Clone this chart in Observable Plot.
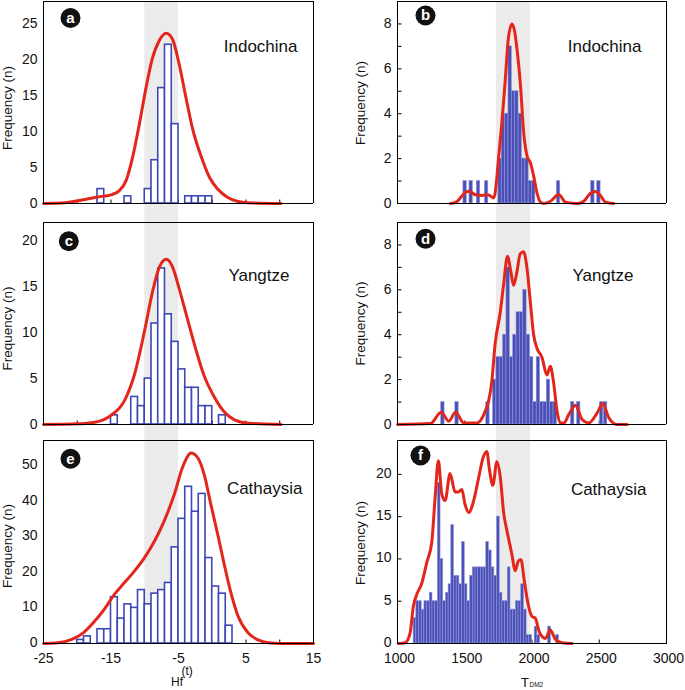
<!DOCTYPE html>
<html><head><meta charset="utf-8">
<script src="https://cdn.jsdelivr.net/npm/d3@7"></script>
<script src="https://cdn.jsdelivr.net/npm/@observablehq/plot@0.6"></script>
<style>
body{margin:0;background:#fff;}
#fig{position:relative;width:685px;height:690px;font-family:Arial,"Liberation Sans",Helvetica,sans-serif;color:#111;overflow:hidden;}
#fig svg{position:absolute;}
.xt{position:absolute;line-height:1;white-space:nowrap;}
</style></head><body><div id="fig"></div>
<script>
// ---------------- data ----------------
const hfBand = [-10, -5];
const tdmBand = [1735, 1990];
const hfDomain = [-25, 15];
const tdmDomain = [1000, 3000];
const hfTickLabels = [-25, -15, -5, 5, 15];
const hfMinorTicks = [-20, -15, -10, -5, 0, 5, 10];
const tdmTickLabels = [1000, 1500, 2000, 2500, 3000];
const tdmMinorTicks = [1500, 2000, 2500];
const letters = ["a", "b", "c", "d", "e", "f"];
const regions = ["Indochina", "Indochina", "Yangtze", "Yangtze", "Cathaysia", "Cathaysia"];

// (a) Indochina Hf(t)
const aBinStart = [-17, -13, -10, -9, -8, -7, -6, -4, -3, -2, -1];
const aBinCount = [2, 1, 2, 6, 16, 22, 11, 1, 1, 1, 1];
const aCurveX = [-25, -21.9, -19.9, -17, -15, -13.8, -12.8, -11.8, -10.8, -9.8, -8.9, -7.9, -6.8, -5.9, -4.9, -3.9, -2.9, -1.6, -0.4, 0.8, 2.3, 3.8, 5.3, 10.2];
const aCurveY = [0, 0.1, 0.37, 0.9, 1.2, 1.75, 3.1, 6.4, 11.0, 16.1, 20.0, 22.5, 23.6, 22.8, 19.3, 14.7, 10.3, 6.4, 3.6, 2.0, 0.83, 0.28, 0.1, 0];
const aYLabels = [0, 5, 10, 15, 20, 25];

// (b) Indochina TDM2
const bBinStart = [1490, 1535, 1590, 1650, 1750, 1775, 1800, 1825, 1850, 1875, 1900, 1925, 1950, 1975, 2000, 2185, 2440, 2485];
const bBinCount = [1, 1, 1, 1, 2, 4, 4, 7, 5, 5, 4, 2, 2, 1, 1, 1, 1, 1];
const bCurveX = [1394, 1440, 1506, 1530, 1580, 1630, 1667, 1700, 1716, 1741, 1751, 1776, 1801, 1825, 1851, 1870, 1890, 1914, 1939, 1964, 1989, 2013, 2039, 2063, 2088, 2138, 2199, 2249, 2336, 2385, 2435, 2472, 2509, 2546, 2608];
const bCurveY = [0, 0.08, 0.5, 0.55, 0.39, 0.36, 0.39, 0.3, 0.25, 1.3, 2.0, 3.6, 5.5, 7.4, 8.0, 7.7, 6.8, 5.3, 3.1, 2.1, 1.8, 1.2, 0.43, 0.06, 0, 0.1, 0.4, 0.06, 0, 0.1, 0.46, 0.54, 0.36, 0.06, 0];
const bYLabels = [0, 2, 4, 6, 8];
const bYMinor = [1, 2, 3, 4, 5, 6, 7, 8];

// (c) Yangtze Hf(t)
const cBinStart = [-15, -12, -11, -10, -9, -8, -7, -6, -5, -4, -3, -2, -1, 1];
const cBinCount = [1, 3, 2, 5, 11, 17, 12, 9, 6, 4, 4, 2, 2, 1];
const cCurveX = [-25, -19.9, -17.4, -15, -13, -11.5, -10, -8.8, -7.8, -6.8, -5.9, -4.9, -3.6, -2.4, -1.2, 0.3, 1.8, 3.3, 5.3, 10.2];
const cCurveY = [0, 0.07, 0.25, 1.0, 2.6, 5.5, 10.3, 14.6, 17.2, 18.0, 17.2, 14.8, 11.3, 8.1, 5.3, 3.0, 1.35, 0.5, 0.15, 0];
const cYLabels = [0, 5, 10, 15, 20];

// (d) Yangtze TDM2
const dBinStart = [1325, 1430, 1660, 1710, 1735, 1760, 1785, 1810, 1835, 1860, 1885, 1910, 1935, 1960, 1985, 2010, 2035, 2060, 2085, 2110, 2135, 2160, 2290, 2335, 2505, 2535];
const dBinCount = [1, 1, 1, 2, 3, 3, 4, 7, 3, 4, 5, 5, 6, 4, 3, 1, 3, 1, 1, 2, 1, 1, 1, 1, 1, 1];
const dCurveX = [1000, 1245, 1325, 1382, 1431, 1493, 1592, 1630, 1652, 1677, 1701, 1726, 1764, 1788, 1818, 1843, 1863, 1888, 1912, 1937, 1962, 1987, 2012, 2037, 2074, 2111, 2136, 2160, 2186, 2210, 2237, 2274, 2323, 2373, 2422, 2485, 2526, 2571, 2633, 2708];
const dCurveY = [0, 0.04, 0.55, 0.15, 0.55, 0.07, 0.07, 0.3, 0.6, 1.04, 1.9, 3.6, 5.0, 6.2, 7.5, 6.8, 6.2, 6.8, 7.6, 7.7, 7.0, 5.5, 4.0, 3.4, 3.0, 2.2, 2.6, 1.9, 0.6, 0.07, 0.07, 0.45, 0.86, 0.22, 0.07, 0.52, 0.92, 0.3, 0, 0];
const dYLabels = [0, 2, 4, 6, 8];
const dYMinor = [1, 2, 3, 4, 5, 6, 7, 8];

// (e) Cathaysia Hf(t)
const eBinStart = [-20, -19, -17, -16, -15, -14, -13, -12, -11, -10, -9, -8, -7, -6, -5, -4, -3, -2, -1, 0, 1, 2];
const eBinCount = [1, 2, 4, 4, 13, 7, 11, 10, 15, 11, 14, 15, 17, 27, 35, 44, 37, 42, 24, 16, 14, 5];
const eCurveX = [-25, -22.9, -20.9, -19.1, -17.4, -16, -14.5, -13, -11.5, -10, -8.5, -7.1, -5.6, -4.4, -3.1, -2.1, -1.2, -0.2, 0.8, 1.8, 2.8, 3.8, 5.3, 6.8, 8.3, 10.2, 15];
const eCurveY = [0, 0.2, 1.1, 3.0, 6.3, 9.6, 13.8, 17.1, 20.4, 24.2, 28.9, 34.5, 42.0, 49.5, 53.5, 52.0, 47.5, 39.0, 30.7, 22.0, 14.0, 7.8, 3.0, 1.0, 0.2, 0, 0];
const eYLabels = [0, 10, 20, 30, 40, 50];

// (f) Cathaysia TDM2
const fBinStart = [1120, 1140, 1160, 1180, 1200, 1220, 1240, 1260, 1280, 1300, 1320, 1340, 1360, 1380, 1400, 1420, 1440, 1460, 1480, 1500, 1520, 1540, 1560, 1580, 1600, 1620, 1640, 1660, 1680, 1700, 1720, 1740, 1760, 1780, 1800, 1820, 1840, 1860, 1880, 1900, 1920, 1940, 1960, 1980, 2020, 2040, 2120, 2180];
const fBinCount = [3, 5, 5, 4, 5, 5, 6, 5, 5, 19, 10, 5, 6, 7, 14, 8, 8, 7, 12, 7, 5, 8, 9, 9, 9, 9, 9, 12, 11, 9, 8, 15, 6, 5, 5, 9, 4, 4, 5, 5, 7, 4, 1, 1, 2, 1, 2, 1];
const fCurveX = [1006, 1056, 1093, 1118, 1143, 1180, 1218, 1255, 1279, 1304, 1329, 1354, 1391, 1428, 1453, 1478, 1503, 1530, 1565, 1602, 1639, 1664, 1684, 1709, 1739, 1764, 1789, 1818, 1851, 1875, 1900, 1918, 1942, 1967, 2000, 2024, 2056, 2099, 2136, 2173, 2223, 2298];
const fCurveY = [0, 0.08, 1.2, 4.4, 5.8, 7.1, 9.6, 12.0, 17.1, 21.6, 17.7, 16.9, 20.1, 17.9, 17.9, 18.2, 16.4, 15.5, 16.8, 19.5, 22.1, 22.7, 20.5, 18.7, 21.5, 19.7, 15.5, 13.0, 10.5, 8.6, 9.8, 9.9, 7.5, 5.0, 3.2, 3.0, 1.3, 0.6, 1.6, 0.5, 0.08, 0];
const fYLabels = [0, 5, 10, 15, 20];
const fYMinor = [5, 10, 15, 20];

// ---------------- layout ----------------
const FONT = "Arial, 'Liberation Sans', Helvetica, sans-serif";
const RED = "#e3261c";
const OUTLINE = "#3d47b5";
const cols = {
  left: {left: 0, width: 330, ml: 43, mr: 17, xdx: 0},
  right: {left: 350, width: 335, ml: 47, mr: 19, xdx: 2}
};
const rows = [
  {top: 0, height: 222, mt: 1, mb: 0, zero: 203, ydy: 0},
  {top: 221, height: 219, mt: 1, mb: 0, zero: 203, ydy: 0},
  {top: 439, height: 251, mt: 1, mb: 47, zero: 204, ydy: -1}
];
const tickUp = {draw(ctx) { ctx.moveTo(0, 0); ctx.lineTo(0, -4); }};
const tickRight = {draw(ctx) { ctx.moveTo(0, 0); ctx.lineTo(4, 0); }};

const panels = [
  {col: "left", row: 0, xDomain: hfDomain, band: hfBand, yTop: 28, binStart: aBinStart, binCount: aBinCount, binWidth: 1, curveX: aCurveX, curveY: aCurveY, yLabels: aYLabels, yMinor: null, xMinor: hfMinorTicks, xLabels: hfTickLabels, filled: false, badge: [27, 16.5], nameOff: [-16, 45], ylab: [-36, -4]},
  {col: "right", row: 0, xDomain: tdmDomain, band: tdmBand, yTop: 9, binStart: bBinStart, binCount: bBinCount, binWidth: 25, curveX: bCurveX, curveY: bCurveY, yLabels: bYLabels, yMinor: bYMinor, xMinor: tdmMinorTicks, xLabels: tdmTickLabels, filled: true, badge: [28, 14], nameOff: [-25, 45.5], ylab: [-37, -9]},
  {col: "left", row: 1, xDomain: hfDomain, band: hfBand, yTop: 22, binStart: cBinStart, binCount: cBinCount, binWidth: 1, curveX: cCurveX, curveY: cCurveY, yLabels: cYLabels, yMinor: null, xMinor: hfMinorTicks, xLabels: hfTickLabels, filled: false, badge: [25.3, 18.7], nameOff: [-24, 53.4], ylab: [-36, -3]},
  {col: "right", row: 1, xDomain: tdmDomain, band: tdmBand, yTop: 9, binStart: dBinStart, binCount: dBinCount, binWidth: 25, curveX: dCurveX, curveY: dCurveY, yLabels: dYLabels, yMinor: dYMinor, xMinor: tdmMinorTicks, xLabels: tdmTickLabels, filled: true, badge: [28, 16.3], nameOff: [-33, 53.5], ylab: [-37, -8]},
  {col: "left", row: 2, xDomain: hfDomain, band: hfBand, yTop: 57, binStart: eBinStart, binCount: eBinCount, binWidth: 1, curveX: eCurveX, curveY: eCurveY, yLabels: eYLabels, yMinor: null, xMinor: hfMinorTicks, xLabels: hfTickLabels, filled: false, badge: [27, 18.3], nameOff: [-11, 48.3], ylab: [-36, 4]},
  {col: "right", row: 2, xDomain: tdmDomain, band: tdmBand, yTop: 24, binStart: fBinStart, binCount: fBinCount, binWidth: 20, curveX: fCurveX, curveY: fCurveY, yLabels: fYLabels, yMinor: fYMinor, xMinor: tdmMinorTicks, xLabels: tdmTickLabels, filled: true, badge: [23, 15], nameOff: [-20, 49], ylab: [-37, 1]}
];

const fig = document.getElementById("fig");

panels.forEach((p, idx) => {
  const c = cols[p.col], r = rows[p.row];
  const k = (r.zero - r.mt) / p.yTop;
  const yMin = -(r.height - r.mb - r.zero) / k;
  const bottom = p.row === 2;
  const bars = p.binStart.map((s, i) => ({x1: s, x2: s + p.binWidth, y: p.binCount[i]})).filter(d => d.y > 0);
  const curve = p.curveX.map((x, i) => ({x, y: p.curveY[i]}));
  const marks = [
    Plot.rect([p.band], {x1: d => d[0], x2: d => d[1], fill: "#ebebeb"}),
    Plot.dot(p.xMinor, {x: d => d, y: () => 0, symbol: tickUp, r: 3, fill: "none", stroke: "#000", strokeWidth: 1}),
    p.yMinor ? Plot.dot(p.yMinor, {x: null, y: d => d, frameAnchor: "left", symbol: tickRight, r: 3, fill: "none", stroke: "#000", strokeWidth: 1}) : null,
    Plot.rect(bars, {x1: "x1", x2: "x2", y1: 0, y2: "y",
      fill: p.filled ? "#4b50b6" : "#ffffff",
      stroke: p.filled ? "#8f93da" : OUTLINE,
      strokeWidth: p.filled ? 0.6 : 1.6}),
    Plot.line(curve, {x: "x", y: "y", stroke: RED, strokeWidth: 3, curve: "monotone-x", strokeLinejoin: "round"}),
    ...(bottom
      ? [Plot.frame({stroke: "#000", strokeWidth: 1})]
      : [Plot.ruleY([0, p.yTop], {stroke: "#000", strokeWidth: 1}),
         Plot.ruleX([p.xDomain[0], p.xDomain[1]], {y1: 0, y2: p.yTop, stroke: "#000", strokeWidth: 1})]),
    Plot.axisY(p.yLabels, {anchor: "left", tickSize: 0, tickPadding: 6, dy: r.ydy, fontSize: 14, label: null, tickFormat: d => String(d)}),
    bottom ? Plot.axisX(p.xLabels, {anchor: "bottom", tickSize: 0, tickPadding: 10, dx: c.xdx, fontSize: 14, label: null, tickFormat: d => String(d)}) : null,
    Plot.text(["Frequency (n)"], {x: null, y: null, text: d => d, frameAnchor: "left", dx: p.ylab[0], dy: p.ylab[1], rotate: -90, fontSize: 13.5, textAnchor: "middle", lineAnchor: "middle", fill: "#111"}),
    Plot.dot([letters[idx]], {x: null, y: null, frameAnchor: "top-left", dx: p.badge[0], dy: p.badge[1], r: 10, fill: "#111", stroke: "none"}),
    Plot.text([letters[idx]], {x: null, y: null, text: d => d, frameAnchor: "top-left", dx: p.badge[0], dy: p.badge[1], fill: "#fff", fontWeight: "bold", fontSize: 15, textAnchor: "middle", lineAnchor: "middle"}),
    Plot.text([regions[idx]], {x: null, y: null, text: d => d, frameAnchor: "top-right", dx: p.nameOff[0], dy: p.nameOff[1], textAnchor: "end", lineAnchor: "middle", fontSize: 17, fill: "#111"})
  ].filter(Boolean);

  const svg = Plot.plot({
    width: c.width,
    height: r.height,
    marginLeft: c.ml,
    marginRight: c.mr,
    marginTop: r.mt,
    marginBottom: r.mb,
    x: {domain: p.xDomain, axis: null},
    y: {domain: [yMin, p.yTop], axis: null},
    style: {background: "transparent", fontFamily: FONT, overflow: "visible", color: "#111"},
    marks
  });
  svg.style.left = c.left + "px";
  svg.style.top = r.top + "px";
  svg.style.maxWidth = "none";
  fig.appendChild(svg);
});

// x-axis titles (below the bottom plots)
const xTitles = [
  {text: "Hf", left: 171, top: 676, size: 12},
  {text: "(t)", left: 181.5, top: 665, size: 12},
  {text: "T", left: 521, top: 675.5, size: 13},
  {text: "DM2", left: 529.5, top: 682, size: 6.5}
];
xTitles.forEach(t => {
  const el = document.createElement("div");
  el.className = "xt";
  el.textContent = t.text;
  el.style.left = t.left + "px";
  el.style.top = t.top + "px";
  el.style.fontSize = t.size + "px";
  fig.appendChild(el);
});
</script></body></html>
